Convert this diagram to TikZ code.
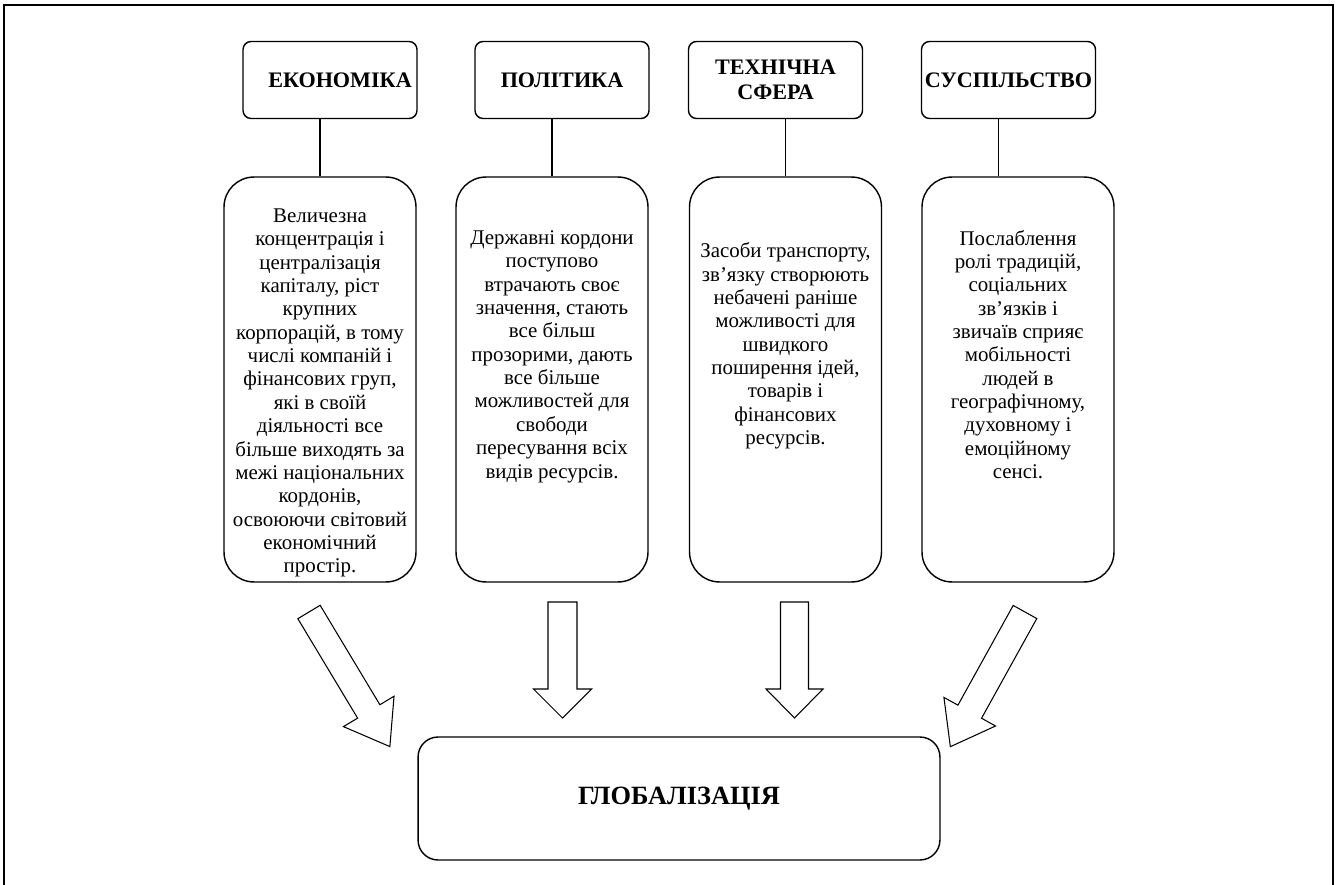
\documentclass[tikz,border=0pt]{standalone}
\usepackage{fontspec}
\setmainfont{Liberation Serif}
\begin{document}
\begin{tikzpicture}[
    x=0.02cm, y=-0.02cm,
    head/.style={rectangle, draw, rounded corners=0.16cm, line width=0.8pt, inner xsep=0pt, minimum width=3.48cm, minimum height=1.54cm, align=center, font=\bfseries\fontsize{12.6}{14.3}\selectfont},
    card/.style={rectangle, draw, rounded corners=0.6cm, line width=0.8pt, minimum width=3.84cm, minimum height=8.1cm},
    body/.style={align=center, inner sep=0pt, font=\fontsize{11.9}{13.3}\selectfont},
    goal/.style={rectangle, draw, rounded corners=0.4cm, line width=0.8pt, minimum width=10.44cm, minimum height=2.46cm, font=\bfseries\fontsize{15}{17}\selectfont},
    fat/.style={draw, line width=0.6pt, line join=miter},
    link/.style={line width=0.6pt}
]
\useasboundingbox (0,0) rectangle (1336,885);
\draw[line width=1.4pt] (4,895) -- (4,5) -- (1333,5) -- (1333,895);

\node[head] (h1) at (330,80) {\hspace*{0.4cm}ЕКОНОМІКА};
\node[head] (h2) at (562,80) {ПОЛІТИКА};
\node[head] (h3) at (775.5,80) {ТЕХНІЧНА\\СФЕРА};
\node[head] (h4) at (1008.5,80) {СУСПІЛЬСТВО};

\node[card] (b1) at (320,379.5) {};
\node[card] (b2) at (552,379.5) {};
\node[card] (b3) at (785.5,379.5) {};
\node[card] (b4) at (1018,379.5) {};

\node[body] (t1) at (b1 |- 0,393) {Величезна\\концентрація і\\централізація\\капіталу, ріст\\крупних\\корпорацій, в тому\\числі компаній і\\фінансових груп,\\які в своїй\\діяльності все\\більше виходять за\\межі національних\\кордонів,\\освоюючи світовий\\економічний\\простір.};
\node[body] (t2) at (b2 |- 0,356.5) {Державні кордони\\поступово\\втрачають своє\\значення, стають\\все більш\\прозорими, дають\\все більше\\можливостей для\\свободи\\пересування всіх\\видів ресурсів.};
\node[body] (t3) at (b3 |- 0,346) {Засоби транспорту,\\зв’язку створюють\\небачені раніше\\можливості для\\швидкого\\поширення ідей,\\товарів і\\фінансових\\ресурсів.};
\node[body] (t4) at (b4 |- 0,354.5) {Послаблення\\ролі традицій,\\соціальних\\зв’язків і\\звичаїв сприяє\\мобільності\\людей в\\географічному,\\духовному і\\емоційному\\сенсі.};

\draw[link] (h1.south -| b1.north) -- (b1.north);
\draw[link] (h2.south -| b2.north) -- (b2.north);
\draw[link] (h3.south -| b3.north) -- (b3.north);
\draw[link] ([xshift=-0.2cm]h4.south) -- ([xshift=-0.2cm]h4.south |- b4.north);

\node[goal] (glob) at (679,798.5) {ГЛОБАЛІЗАЦІЯ};

\foreach \x/\y/\a/\w/\h/\k/\l in {309/612/31/13/29.5/41/157, 562.5/602/0/14.5/29/29/116, 794.5/602/0/14/28.5/29/116, 1025/612/-29/13.5/29.5/40/154}
  \draw[fat, shift={(\x,\y)}, rotate=\a] (-\w,0) -- (\w,0) -- (\w,\l-\k) -- (\h,\l-\k) -- (0,\l) -- (-\h,\l-\k) -- (-\w,\l-\k) -- cycle;
\end{tikzpicture}
\end{document}
